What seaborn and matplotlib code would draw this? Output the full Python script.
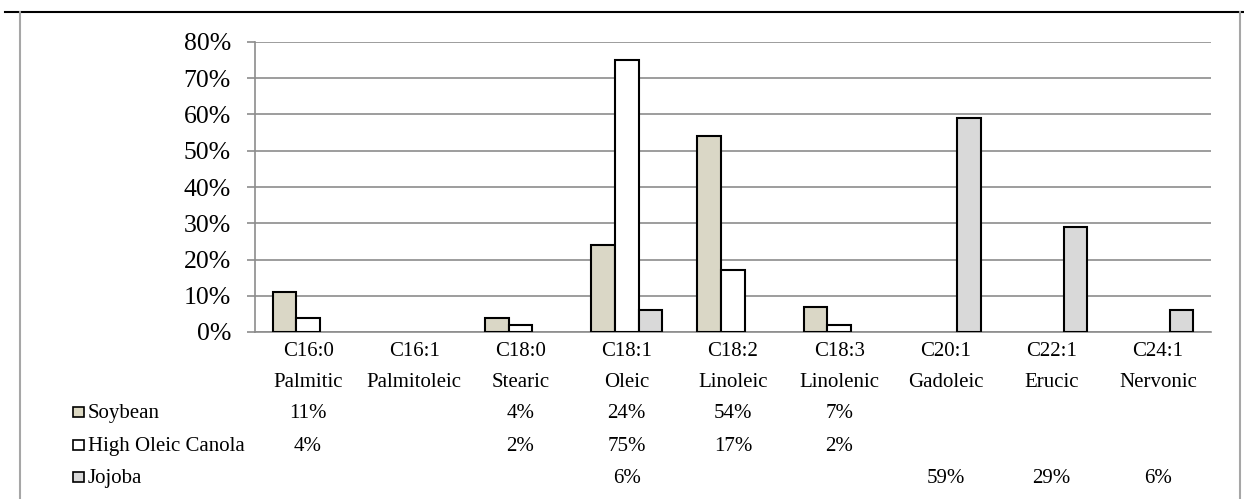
import numpy as np
import pandas as pd
import matplotlib
matplotlib.use("Agg")
import matplotlib.pyplot as plt
import matplotlib.transforms as mtransforms
from matplotlib.lines import Line2D
from matplotlib.patches import Rectangle
from matplotlib.ticker import PercentFormatter
import seaborn as sns

# fatty acid profile of three oils (% of total)
codes = ["C16:0", "C16:1", "C18:0", "C18:1", "C18:2", "C18:3", "C20:1", "C22:1", "C24:1"]
names = ["Palmitic", "Palmitoleic", "Stearic", "Oleic", "Linoleic", "Linolenic",
         "Gadoleic", "Erucic", "Nervonic"]
oils = ["Soybean", "High Oleic Canola", "Jojoba"]
soybean = [11, np.nan, 4, 24, 54, 7, np.nan, np.nan, np.nan]
high_oleic_canola = [4, np.nan, 2, 75, 17, 2, np.nan, np.nan, np.nan]
jojoba = [np.nan, np.nan, np.nan, 6, np.nan, np.nan, 59, 29, 6]

colors = {"Soybean": "#ddd9c3", "High Oleic Canola": "#ffffff", "Jojoba": "#d9d9d9"}
GRID = "#8c8c8c"
W, H = 1244, 499

plt.rcParams["font.family"] = ["Liberation Serif", "DejaVu Serif"]

series = {"Soybean": soybean, "High Oleic Canola": high_oleic_canola, "Jojoba": jojoba}
rows = []
for oil in oils:
    for code, v in zip(codes, series[oil]):
        rows.append({"acid": code, "oil": oil, "value": v / 100})
df = pd.DataFrame(rows)

fig = plt.figure(figsize=(W / 100, H / 100), dpi=100)
ax = fig.add_axes([255 / W, 1 - 332 / H, (1211 - 255) / W, (332 - 42) / H])

sns.barplot(
    data=df.dropna(), x="acid", y="value", hue="oil",
    order=codes, hue_order=oils, palette=colors,
    width=0.67, edgecolor="black", linewidth=1.5,
    legend=False, ax=ax, zorder=3,
)

ax.set_ylim(0, 0.8)
ax.set_yticks(np.arange(0, 0.81, 0.1))
ax.yaxis.set_major_formatter(PercentFormatter(1.0, decimals=0))
ax.set_xlim(-0.5, len(codes) - 0.5)
ax.set_xticks([])
ax.set_xlabel("")
ax.set_ylabel("")
ax.grid(axis="y", color=GRID, linewidth=1.2, zorder=0)
ax.set_axisbelow(True)
for side in ["top", "right"]:
    ax.spines[side].set_visible(False)
for side in ["left", "bottom"]:
    ax.spines[side].set_color(GRID)
    ax.spines[side].set_linewidth(1.2)
ax.tick_params(axis="y", length=5.8, width=1.2, color=GRID, pad=11.5, labelsize=18.5)

# data table under the chart
trans = mtransforms.blended_transform_factory(ax.transData, fig.transFigure)
fs = 15
for i, (code, name) in enumerate(zip(codes, names)):
    ax.text(i, 1 - 356 / H, code, transform=trans, ha="center", va="baseline", fontsize=fs)
    ax.text(i, 1 - 387 / H, name, transform=trans, ha="center", va="baseline", fontsize=fs)

row_base = [418, 451, 483]
for oil, base in zip(oils, row_base):
    for i, v in enumerate(series[oil]):
        if not np.isnan(v):
            ax.text(i, 1 - base / H, f"{v:.0f}%", transform=trans,
                    ha="center", va="baseline", fontsize=fs)
    fig.add_artist(Rectangle((73 / W, 1 - (base - 1) / H), 11 / W, 10 / H,
                             transform=fig.transFigure, facecolor=colors[oil],
                             edgecolor="black", linewidth=1.2))
    fig.text(88 / W, 1 - base / H, oil, ha="left", va="baseline", fontsize=fs)

# outer frame of the chart area
fig.add_artist(Line2D([5 / W, 1], [1 - 12 / H, 1 - 12 / H], color="black", linewidth=1.5))
fig.add_artist(Line2D([20 / W, 20 / W], [0, 1 - 12 / H], color="#a6a6a6", linewidth=1.5))
fig.add_artist(Line2D([1240 / W, 1240 / W], [0, 1 - 12 / H], color="#a6a6a6", linewidth=1.5))

fig.savefig("out.png", dpi=100)
